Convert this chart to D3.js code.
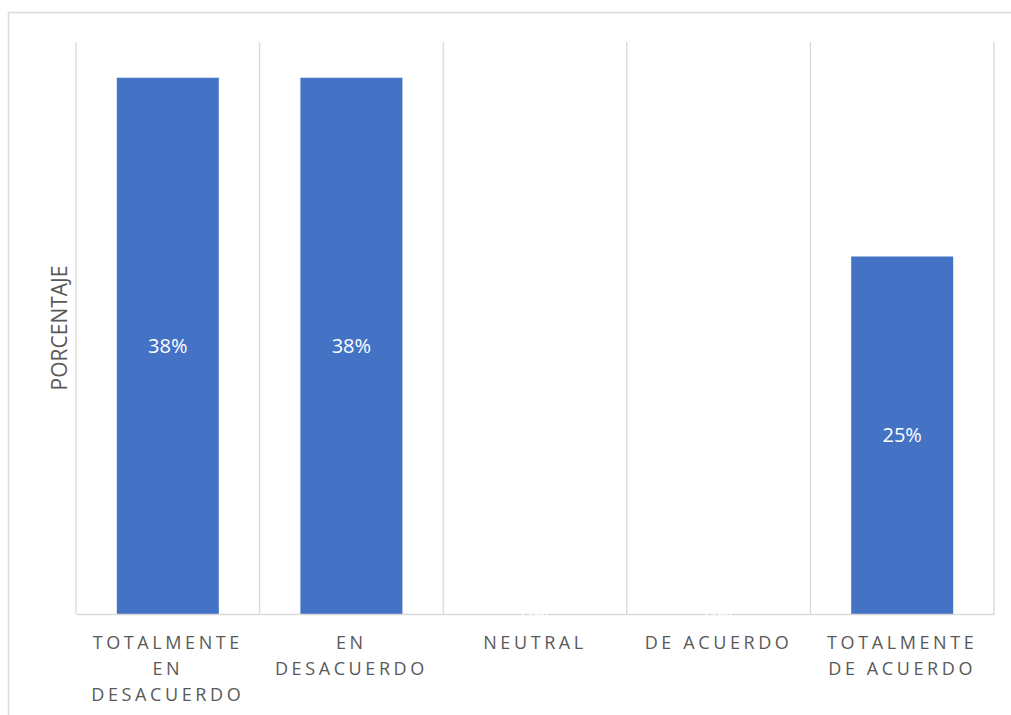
<!DOCTYPE html>
<html>
<head>
<meta charset="utf-8">
<script src="https://cdn.jsdelivr.net/npm/d3@7"></script>
<style>
  html, body { margin: 0; padding: 0; background: #fff; }
</style>
</head>
<body>
<div id="chart"></div>
<script>
// chart data
const categories = ["Totalmente en desacuerdo", "En desacuerdo", "Neutral", "De acuerdo", "Totalmente de acuerdo"];
const categoryLines = [["TOTALMENTE", "EN", "DESACUERDO"], ["EN", "DESACUERDO"], ["NEUTRAL"], ["DE ACUERDO"], ["TOTALMENTE", "DE ACUERDO"]];
const values = [0.375, 0.375, 0, 0, 0.25];
const yDomain = [0, 0.4];
const yTitle = "PORCENTAJE";

const width = 1011, height = 715;
const marginTop = 42, marginRight = 17, marginBottom = 101, marginLeft = 76;
const textColor = "#595959";
const gridColor = "#d9d9d9";
const barColor = "#4472c4";

const svg = d3.select("#chart").append("svg")
  .attr("width", width)
  .attr("height", height)
  .attr("viewBox", [0, 0, width, height]);

// outer chart border (right and bottom fall outside the picture)
svg.append("rect")
  .attr("x", 8.5).attr("y", 12.5)
  .attr("width", width + 10).attr("height", height + 10)
  .attr("fill", "none")
  .attr("stroke", gridColor)
  .attr("stroke-width", 1.5);

// scales
const xCat = d3.scaleBand()
  .domain(categories)
  .range([marginLeft, width - marginRight])
  .padding(0);

const x = d3.scaleBand()
  .domain(categories)
  .range([marginLeft, width - marginRight])
  .paddingInner(1 - 1 / 1.8)
  .paddingOuter(0.4 / 1.8);

const y = d3.scaleLinear()
  .domain(yDomain)
  .range([height - marginBottom, marginTop]);

// vertical gridlines at category boundaries
const bounds = categories.map(c => xCat(c)).concat([xCat(categories[categories.length - 1]) + xCat.bandwidth()]);
svg.append("g")
  .selectAll("line")
  .data(bounds)
  .join("line")
    .attr("x1", d => d).attr("x2", d => d)
    .attr("y1", y(yDomain[1])).attr("y2", y(0))
    .attr("stroke", gridColor)
    .attr("stroke-width", 1.3);

// bars
svg.append("g")
  .attr("fill", barColor)
  .selectAll("rect")
  .data(values)
  .join("rect")
    .attr("x", (d, i) => x(categories[i]))
    .attr("y", d => y(d))
    .attr("width", x.bandwidth())
    .attr("height", d => y(0) - y(d));

// baseline (x axis)
svg.append("g")
  .attr("transform", `translate(0,${y(0)})`)
  .call(d3.axisBottom(xCat).tickSize(0).tickFormat(""))
  .call(g => g.select(".domain").attr("stroke", gridColor).attr("stroke-width", 1.3));

// value labels
svg.append("g")
  .selectAll("text")
  .data(values)
  .join("text")
    .attr("x", (d, i) => x(categories[i]) + x.bandwidth() / 2)
    .attr("y", d => (y(d) + y(0)) / 2)
    .attr("dy", "0.35em")
    .attr("text-anchor", "middle")
    .attr("fill", "#ffffff")
    .attr("font-family", "'Open Sans', sans-serif")
    .attr("font-size", "20px")
    .text(d => d3.format(".0%")(d));

// category labels
const catG = svg.append("g")
  .attr("font-family", "'Open Sans', sans-serif")
  .attr("font-size", "18px")
  .attr("fill", textColor)
  .attr("letter-spacing", "3.6px")
  .attr("text-anchor", "middle");

categoryLines.forEach((lines, i) => {
  const cx = xCat(categories[i]) + xCat.bandwidth() / 2;
  const t = catG.append("text")
    .attr("x", cx)
    .attr("y", y(0) + 35);
  lines.forEach((ln, j) => {
    t.append("tspan")
      .attr("x", cx)
      .attr("dy", j === 0 ? 0 : 26)
      .text(ln);
  });
});

// y axis title
svg.append("text")
  .attr("transform", `translate(67,${(y(0) + y(yDomain[1])) / 2}) rotate(-90)`)
  .attr("text-anchor", "middle")
  .attr("font-family", "'Open Sans', sans-serif")
  .attr("font-size", "21px")
  .attr("fill", textColor)
  .text(yTitle);
</script>
</body>
</html>
